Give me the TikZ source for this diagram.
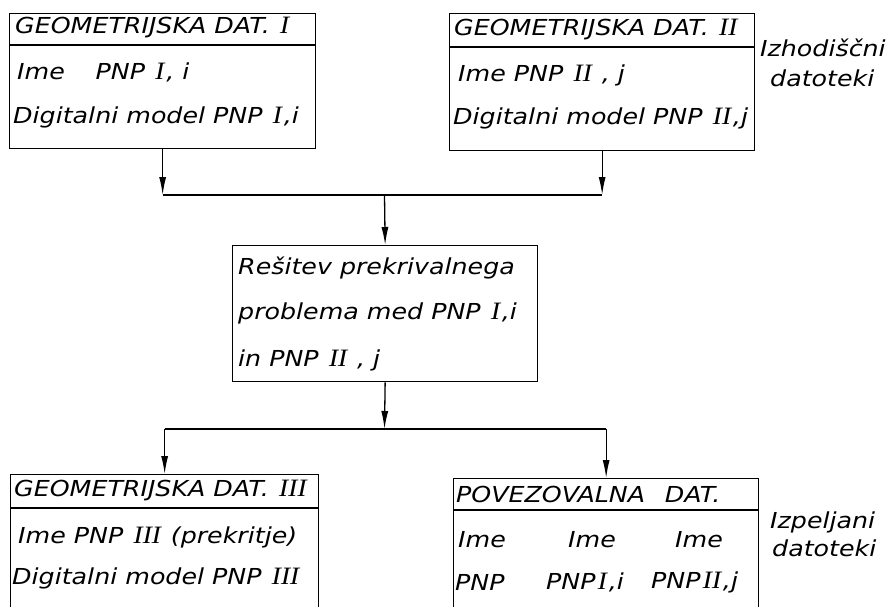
\documentclass[tikz,border=0pt]{standalone}
\usepackage{fontspec}
\setmainfont{DejaVu Sans}[FakeStretch=1.15]
\newfontfamily\rnfont{Liberation Serif}[FakeSlant=0.2,FakeStretch=1.1]
\newcommand{\rn}[1]{\kern1pt{\rnfont\upshape\fontsize{25}{26}\selectfont #1}\kern3pt\relax}
\usetikzlibrary{arrows.meta}
\begin{document}
\begin{tikzpicture}[x=1pt,y=-1pt,
  box/.style={draw, line width=1.3pt, rectangle, inner sep=0pt, anchor=north west},
  txt/.style={anchor=west, inner sep=0pt, font=\itshape\fontsize{22}{26}\selectfont},
  lbl/.style={anchor=west, inner sep=0pt, font=\itshape\fontsize{22}{26}\selectfont},
  arr/.style={-{Latex[length=18pt,width=7pt]}, line width=1.3pt},
  conn/.style={line width=1.3pt}]
\useasboundingbox (0,0) rectangle (891,606);
\clip (0,0) rectangle (891,606);
\fill[white] (0,0) rectangle (891,606);

% boxes
\node[box, minimum width=306pt, minimum height=135pt] (b1) at (9,13) {};
\node[box, minimum width=305pt, minimum height=137pt] (b2) at (449,13) {};
\node[box, minimum width=305pt, minimum height=136pt] (mid) at (232,245) {};
\node[box, minimum width=308pt, minimum height=150pt] (b3) at (10,474) {};
\node[box, minimum width=305pt, minimum height=150pt] (b4) at (453,478) {};

% dividers
\draw[line width=1.3pt] (b1.west |- 0,45) -- (b1.east |- 0,45);
\draw[line width=1.3pt] (b2.west |- 0,47) -- (b2.east |- 0,47);
\draw[line width=1.3pt] (b3.west |- 0,508) -- (b3.east |- 0,508);
\draw[line width=1.3pt] (b4.west |- 0,510) -- (b4.east |- 0,510);

% texts box 1
\node[txt] (t1a) at (15,28) {GEOMETRIJSKA DAT. \rn{I}};
\node[txt] (t1b) at (17,72) {Ime\hspace{1.4em}PNP \rn{I}, i};
\node[txt] (t1c) at (13,117) {Digitalni model PNP \rn{I},i};
% texts box 2
\node[txt] (t2a) at (454,30) {GEOMETRIJSKA DAT. \rn{II}};
\node[txt] (t2b) at (458,75) {Ime PNP \rn{II} , j};
\node[txt] (t2c) at (453,118) {Digitalni model PNP \rn{II},j};
% middle
\node[txt] (tma) at (238,268) {Rešitev prekrivalnega};
\node[txt] (tmb) at (238,313) {problema med PNP \rn{I},i};
\node[txt] (tmc) at (238,360) {in PNP \rn{II} , j};
% box 3
\node[txt] (t3a) at (14,491) {GEOMETRIJSKA DAT. \rn{III}};
\node[txt] (t3b) at (18,537) {Ime PNP \rn{III} (prekritje)};
\node[txt] (t3c) at (12,578) {Digitalni model PNP \rn{III}};
% box 4
\node[txt] (t4a) at (456,494) {POVEZOVALNA\hspace{0.9em}DAT.};
\node[txt] (t4b) at (458,540) {Ime};
\node[txt] (t4c) at (568,540) {Ime};
\node[txt] (t4d) at (675,540) {Ime};
\node[txt] (t4e) at (455,582) {PNP};
\node[txt] (t4f) at (546,582) {PNP\rn{I},i};
\node[txt] (t4g) at (651,582) {PNP\rn{II},j};

% side labels
\node[lbl] (s1) at (760,48) {Izhodiščni};
\node[lbl] (s2) at (770,78) {datoteki};
\node[lbl] (s3) at (770,522) {Izpeljani};
\node[lbl] (s4) at (772,548) {datoteki};

% connectors top
\coordinate (jt) at (384.5,195);
\draw[arr] (b1.south) -- (b1.south |- jt);
\draw[arr] (b2.south) -- (b2.south |- jt);
\draw[conn] (b1.south |- jt) -- (b2.south |- jt);
\draw[arr] (jt) -- (mid.north);

% connectors bottom
\coordinate (jb) at (384.5,429);
\draw[arr] (mid.south) -- (jb);
\draw[conn] (b3.north |- jb) -- (b4.north |- jb);
\draw[arr] (b3.north |- jb) -- (b3.north);
\draw[arr] (b4.north |- jb) -- (b4.north);
\end{tikzpicture}
\end{document}
